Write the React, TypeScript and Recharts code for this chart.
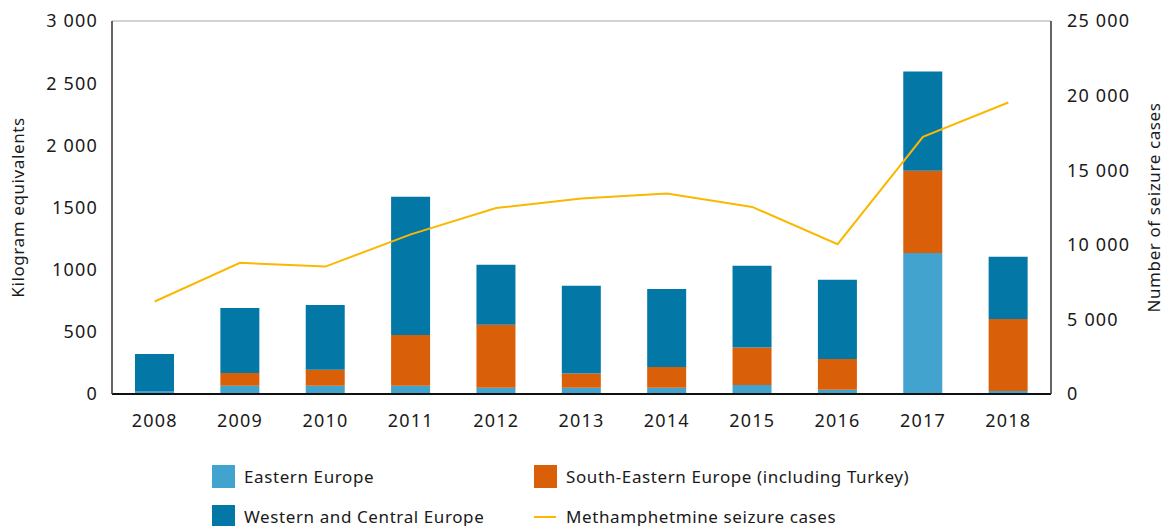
import { ComposedChart, Bar, Line, XAxis, YAxis, CartesianGrid } from "recharts"

// Years and series (kg equivalents, stacked)
const years = ["2008", "2009", "2010", "2011", "2012", "2013", "2014", "2015", "2016", "2017", "2018"]
const easternEurope = [25, 67, 67, 67, 51, 51, 51, 72, 35, 1135, 24]
const southEasternEurope = [0, 102, 129, 408, 505, 113, 166, 301, 247, 660, 580]
const westernCentralEurope = [297, 523, 520, 1111, 483, 706, 628, 658, 636, 798, 499]
// Number of seizure cases (right axis)
const seizureCases = [6200, 8790, 8540, 10700, 12460, 13100, 13440, 12540, 10040, 17240, 19540]

const leftTicks = [0, 500, 1000, 1500, 2000, 2500, 3000]
const leftTickLabels = ["0", "500", "1000", "1500", "2 000", "2 500", "3 000"]
const rightTicks = [0, 5000, 10000, 15000, 20000, 25000]
const rightTickLabels = ["0", "5 000", "10 000", "15 000", "20 000", "25 000"]

const COLORS = {
  eastern: "#41A3CE",
  southEastern: "#DA5F09",
  western: "#0378A6",
  line: "#FBB800",
}

const FONT = "'Noto Sans', sans-serif"
const tickStyle = { fill: "#1a1a1a", fontSize: 18, fontFamily: FONT, letterSpacing: 1.2 }
const labelStyle = { textAnchor: "middle", fill: "#1a1a1a", fontSize: 17, fontFamily: FONT, letterSpacing: 0.6 }

const data = years.map((year, i) => ({
  year,
  eastern: easternEurope[i],
  southEastern: southEasternEurope[i],
  western: westernCentralEurope[i],
  cases: seizureCases[i],
}))

const legendItems = [
  { label: "Eastern Europe", color: COLORS.eastern, type: "rect", x: 212, y: 465 },
  { label: "South-Eastern Europe (including Turkey)", color: COLORS.southEastern, type: "rect", x: 534, y: 465 },
  { label: "Western and Central Europe", color: COLORS.western, type: "rect", x: 212, y: 505 },
  { label: "Methamphetmine seizure cases", color: COLORS.line, type: "line", x: 534, y: 505 },
]

export default function App() {
  return (
    <div style={{ position: "absolute", left: 0, top: 0, width: 1167, height: 526, background: "#fff", fontFamily: FONT }}>
      <ComposedChart
        width={1167}
        height={526}
        data={data}
        margin={{ top: 21, right: 0, left: 32, bottom: 92 }}
        barCategoryGap={0}
      >
        <CartesianGrid vertical={false} stroke="#c4c4c4" strokeWidth={1.5} />
        <XAxis
          dataKey="year"
          height={40}
          tickLine={false}
          axisLine={{ stroke: "#111", strokeWidth: 2 }}
          tick={tickStyle}
          tickMargin={14}
        />
        <YAxis
          yAxisId="left"
          width={80}
          domain={[0, 3000]}
          ticks={leftTicks}
          tickFormatter={(v) => leftTickLabels[leftTicks.indexOf(v)]}
          tickLine={false}
          tickSize={0}
          tickMargin={14}
          axisLine={{ stroke: "#333", strokeWidth: 1.5 }}
          tick={tickStyle}
          label={{
            value: "Kilogram equivalents",
            angle: -90,
            position: "insideLeft",
            offset: -14,
            style: labelStyle,
          }}
        />
        <YAxis
          yAxisId="right"
          orientation="right"
          width={116}
          domain={[0, 25000]}
          ticks={rightTicks}
          tickFormatter={(v) => rightTickLabels[rightTicks.indexOf(v)]}
          tickLine={false}
          tickSize={0}
          tickMargin={16}
          axisLine={{ stroke: "#333", strokeWidth: 1.5 }}
          tick={tickStyle}
          label={{
            value: "Number of seizure cases",
            angle: -90,
            position: "insideRight",
            offset: 13,
            style: labelStyle,
          }}
        />
        <Bar yAxisId="left" dataKey="eastern" stackId="a" fill={COLORS.eastern} barSize={39} isAnimationActive={false} />
        <Bar yAxisId="left" dataKey="southEastern" stackId="a" fill={COLORS.southEastern} barSize={39} isAnimationActive={false} />
        <Bar yAxisId="left" dataKey="western" stackId="a" fill={COLORS.western} barSize={39} isAnimationActive={false} />
        <Line
          yAxisId="right"
          dataKey="cases"
          type="linear"
          stroke={COLORS.line}
          strokeWidth={2}
          dot={false}
          activeDot={false}
          isAnimationActive={false}
        />
      </ComposedChart>

      {/* legend */}
      {legendItems.map((item) => (
        <div key={item.label} style={{ position: "absolute", left: item.x, top: item.y, height: 23, display: "flex", alignItems: "center" }}>
          {item.type === "rect" ? (
            <div style={{ width: 23, height: 23, background: item.color }} />
          ) : (
            <div style={{ width: 22, height: 2, background: item.color, marginRight: 1 }} />
          )}
          <span style={{ marginLeft: 9, fontSize: 17, letterSpacing: 0.6, color: "#1a1a1a", whiteSpace: "nowrap" }}>{item.label}</span>
        </div>
      ))}
    </div>
  )
}
